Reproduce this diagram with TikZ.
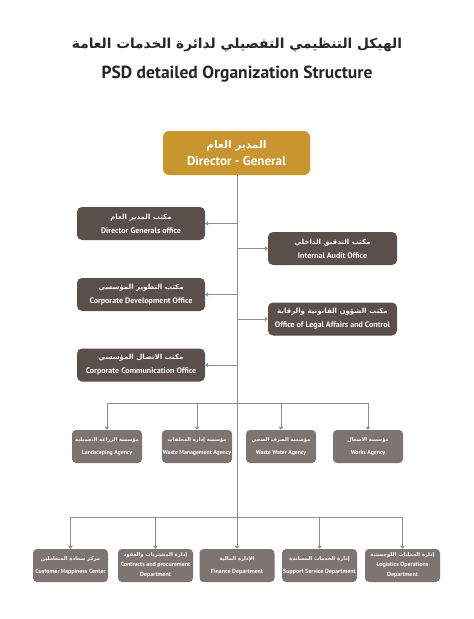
\documentclass[tikz,border=0pt]{standalone}
\usepackage{fontspec}
\setmainfont{PT Sans}
\newfontfamily\arabicfont[Script=Arabic,Scale=0.88]{DejaVu Sans}
\TeXXeTstate=1
\usetikzlibrary{arrows.meta}
\newcommand\ArTxt[1]{{\arabicfont\beginR #1\endR}}
\definecolor{gold}{HTML}{C8952F}
\definecolor{darkbox}{HTML}{5A4F4B}
\definecolor{lightbox}{HTML}{7E7471}
\definecolor{linegray}{HTML}{8E8E8E}
\definecolor{titlecol}{HTML}{262626}
\tikzset{
  dirbox/.style={fill=gold, rounded corners=6pt, minimum width=147pt, minimum height=44pt, text=white, align=center, inner sep=1pt, font=\bfseries\fontsize{13}{17}\selectfont},
  offbox/.style={fill=darkbox, rounded corners=5pt, minimum height=33pt, text=white, align=center, inner sep=1pt, font=\bfseries\fontsize{8}{14}\selectfont},
  agbox/.style={fill=lightbox, rounded corners=4pt, minimum width=70pt, minimum height=33pt, text=white, align=center, inner sep=1pt, font=\bfseries\fontsize{5.8}{13.5}\selectfont},
  depbox/.style={fill=lightbox, rounded corners=4pt, minimum width=75pt, minimum height=33pt, text=white, align=center, inner sep=1pt, font=\bfseries\fontsize{6}{12.5}\selectfont},
  conn/.style={draw=linegray, line width=0.8pt},
  arr/.style={conn, -{Triangle[width=4.5pt,length=3pt]}},
  ttl/.style={text=titlecol, inner sep=0pt}
}
\begin{document}
\begin{tikzpicture}[x=1pt,y=-1pt]
\useasboundingbox[fill=white] (0,0) rectangle (474,619);

\node[ttl, font=\bfseries\fontsize{15.6}{18}\selectfont] (title) at (237,45) {\ArTxt{الهيكل التنظيمي التفصيلي لدائرة الخدمات العامة}};
\node[ttl, font=\bfseries\fontsize{17.5}{20}\selectfont] (etitle) at (237,74) {PSD detailed Organization Structure};

\node[dirbox] (dir) at (236.5,153) {{\fontsize{12}{17}\selectfont\ArTxt{المدير العام}}\\Director - General};

% offices
\node[offbox, minimum width=128pt] (dgo) at (141,223.5) {\ArTxt{مكتب المدير العام}\\Director Generals office};
\node[offbox, minimum width=129pt] (iao) at (332.5,248.5) {\ArTxt{مكتب التدقيق الداخلي}\\Internal Audit Office};
\node[offbox, minimum width=128pt] (cdo) at (141,294.5) {\ArTxt{مكتب التطوير المؤسسي}\\Corporate Development Office};
\node[offbox, minimum width=129pt] (lac) at (332.5,319) {\ArTxt{مكتب الشؤون القانونية والرقابة}\\Office of Legal Affairs and Control};
\node[offbox, minimum width=128pt] (cco) at (141,365) {\ArTxt{مكتب الاتصال المؤسسي}\\Corporate Communication Office};

% agencies
\node[agbox] (land) at (107,446.5) {\ArTxt{مؤسسة الزراعة التجميلية}\\Landscaping Agency};
\node[agbox] (waste) at (197,446.5) {\ArTxt{مؤسسة إدارة المخلفات}\\Waste Management Agency};
\node[agbox] (ww) at (281,446.5) {\ArTxt{مؤسسة الصرف الصحي}\\Waste Water Agency};
\node[agbox] (works) at (368,446.5) {\ArTxt{مؤسسة الاشغال}\\Works Agency};

% departments
\node[depbox] (chc) at (70.5,565.5) {\ArTxt{مركز سعادة المتعاملين}\\Customer Happiness Center};
\node[depbox, font=\bfseries\fontsize{6}{10}\selectfont] (cpd) at (155.5,565.5) {\ArTxt{إدارة المشتريات والعقود}\\Contracts and procurement\\Department};
\node[depbox] (fin) at (237,565.5) {\ArTxt{الإدارة المالية}\\Finance Department};
\node[depbox] (ssd) at (319.5,565.5) {\ArTxt{إدارة الخدمات المساندة}\\Support Service Department};
\node[depbox, font=\bfseries\fontsize{6}{10}\selectfont] (lod) at (402.5,565.5) {\ArTxt{إدارة العمليات اللوجستية}\\Logistics Operations\\Department};

% trunk and buses
\coordinate (tbot) at (237,517);
\coordinate (busA) at (237,403);
\coordinate (busB) at (237,517);
\draw[conn] (dir.south -| tbot) -- (tbot);

\foreach \n in {dgo,cdo,cco}{
  \draw[arr] (\n.east -| tbot) -- (\n.east);
}
\foreach \n in {iao,lac}{
  \draw[arr] (\n.west -| tbot) -- (\n.west);
}

\draw[conn] (land.north |- busA) -- (works.north |- busA);
\foreach \n in {land,waste,ww,works}{
  \draw[arr] (\n.north |- busA) -- (\n.north);
}

\draw[conn] (chc.north |- busB) -- (lod.north |- busB);
\foreach \n in {chc,cpd,fin,ssd,lod}{
  \draw[arr] (\n.north |- busB) -- (\n.north);
}
\end{tikzpicture}
\end{document}
